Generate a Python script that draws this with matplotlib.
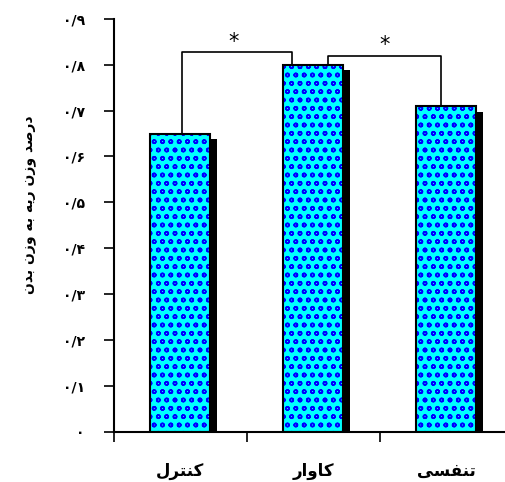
import matplotlib
matplotlib.use('Agg')
import matplotlib.pyplot as plt
import numpy as np

# category labels in visual (reshaped) order
groups = ['\uFEDD\uFEAE\uFE98\uFEE8\uFB90',   # کنترل
          '\uFEAD\uFE8D\uFEED\uFE8E\uFB90',   # کاوار
          '\uFBFD\uFEB4\uFED4\uFEE8\uFE97']   # تنفسی
values = [0.65, 0.80, 0.71]
yticks = [0, 0.1, 0.2, 0.3, 0.4, 0.5, 0.6, 0.7, 0.8, 0.9]
ytick_labels = ['\u06F0'] + ['\u06F0/' + chr(0x06F0 + i) for i in range(1, 10)]
ylabel = ('\uFEE5\uFEAA\uFE91 \uFEE5\uFEAF\uFEED \uFEEA\uFE91 '
          '\uFEEA\uFBFE\uFEAD \uFEE5\uFEAF\uFEED \uFEAA\uFEBB\uFEAD\uFEA9')  # درصد وزن ریه به وزن بدن

plt.rcParams['font.family'] = ['DejaVu Sans']
plt.rcParams['hatch.color'] = '#0000ff'
plt.rcParams['hatch.linewidth'] = 1.1

fig = plt.figure(figsize=(5.06, 4.82), dpi=100)
ax = fig.add_axes([0.225, 0.104, 0.775, 0.857])

x = np.arange(len(values))
w = 0.45
dx, dy = 0.05, 0.012

# shadows
ax.bar(x + dx, np.array(values) - dy, w, color='black', zorder=1)
# hatched fill
ax.bar(x, values, w, color='#00ffff', edgecolor='#0000ff', linewidth=0, hatch='oo', zorder=2)
ax.bar(x, values, w, fill=False, edgecolor='black', linewidth=1.5, zorder=3)

# significance brackets
ax.plot([0.01, 0.01, 0.84, 0.84], [values[0], 0.828, 0.828, 0.80], color='black', lw=1.2, zorder=4)
ax.plot([1.11, 1.11, 1.96, 1.96], [0.80, 0.819, 0.819, values[2]], color='black', lw=1.2, zorder=4)
ax.text(0.40, 0.85, '*', ha='center', va='center', fontsize=15)
ax.text(1.54, 0.843, '*', ha='center', va='center', fontsize=15)

ax.set_xlim(-0.5, 2.45)
ax.set_ylim(0, 0.9)
ax.set_yticks(yticks)
ax.set_yticklabels(ytick_labels, fontsize=10, fontweight='bold')
ax.set_xticks([-0.5, 0.5, 1.5])
ax.set_xticklabels([])
ax.tick_params(axis='x', direction='out', length=7, width=1.2)
ax.tick_params(axis='y', direction='out', length=7, width=1.2, pad=14)
for i, g in enumerate(groups):
    ax.text(x[i], -0.085, g, ha='center', va='center', fontsize=12, fontweight='bold')
ax.set_ylabel(ylabel, fontsize=10, fontweight='bold')
ax.yaxis.set_label_coords(-0.195, 0.55)

ax.spines['top'].set_visible(False)
ax.spines['right'].set_visible(False)
ax.spines['left'].set_linewidth(1.5)
ax.spines['bottom'].set_linewidth(1.5)

fig.savefig('out.png', dpi=100)
